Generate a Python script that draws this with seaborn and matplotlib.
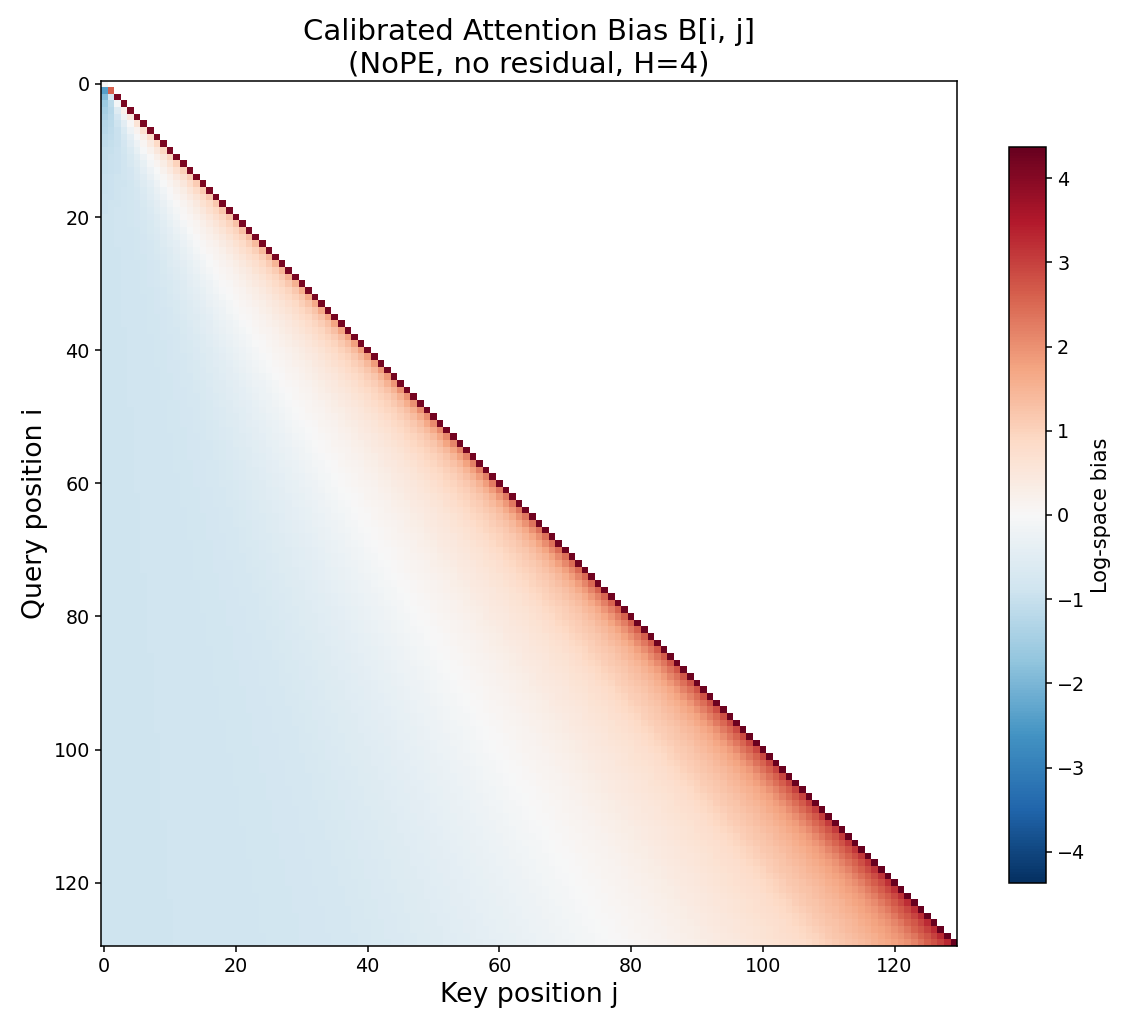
import numpy as np
import matplotlib
matplotlib.use("Agg")
import matplotlib.pyplot as plt
import seaborn as sns

# ---- data ----
n_pos = 130
vlim = 4.37

# bias as a function of relative distance (i - j) / i, for three query rows
rel_dist = [0.0078, 0.0155, 0.031, 0.055, 0.087, 0.134, 0.18, 0.25,
            0.4, 0.5, 0.6, 0.7, 0.8, 0.9, 1.0]
profile_rows = [20, 60, 129]
bias_row20 = [2.0, 1.8, 1.5, 1.2, 1.0, 0.8, 0.6, 0.35,
              0.0, -0.3, -0.55, -0.75, -0.85, -0.88, -0.92]
bias_row60 = [2.6, 2.3, 1.9, 1.45, 1.15, 0.9, 0.65, 0.4,
              0.0, -0.3, -0.55, -0.75, -0.85, -0.88, -0.92]
bias_row129 = [3.3, 3.0, 2.6, 2.0, 1.6, 1.2, 0.8, 0.5,
               0.0, -0.3, -0.55, -0.75, -0.85, -0.88, -0.92]

# the first query rows are bluer towards key 0
early_rows = [1, 2, 3, 4, 5, 6, 8, 10, 14, 20]
early_far = [-2.4, -1.9, -1.6, -1.45, -1.35, -1.25, -1.15, -1.05, -0.98, -0.92]

# diagonal (self) bias
diag_rows = [0, 1, 2, 129]
diag_bias = [0.0, 2.6, 4.1, 4.37]

tick_vals = [0, 20, 40, 60, 80, 100, 120]
cbar_ticks = [-4, -3, -2, -1, 0, 1, 2, 3, 4]


def build_bias():
    profiles = [bias_row20, bias_row60, bias_row129]
    log_d = np.log(rel_dist)
    bias = np.zeros((n_pos, n_pos))
    for i in range(n_pos):
        j = np.arange(i + 1)
        s = np.clip((i - j) / max(i, 1), 1e-6, 1.0)
        # blend the row profiles
        curves = [np.interp(np.log(s), log_d, p) for p in profiles]
        if i <= profile_rows[0]:
            row = curves[0]
        elif i <= profile_rows[1]:
            w = (i - profile_rows[0]) / (profile_rows[1] - profile_rows[0])
            row = (1 - w) * curves[0] + w * curves[1]
        else:
            w = (i - profile_rows[1]) / (profile_rows[2] - profile_rows[1])
            row = (1 - w) * curves[1] + w * curves[2]
        shift = np.interp(i, early_rows, early_far) - early_far[-1]
        row = row + shift * s
        row[i] = np.interp(i, diag_rows, diag_bias)
        bias[i, :i + 1] = row
    ii, jj = np.indices((n_pos, n_pos))
    mask = jj > ii
    return bias, mask


bias, mask = build_bias()

fig = plt.figure(figsize=(11.34, 10.31), dpi=100)
ax = fig.add_axes([0.089, 0.0824, 0.755, 0.8395])
cax = fig.add_axes([0.8898, 0.1435, 0.0326, 0.714])

sns.heatmap(bias, mask=mask, cmap="RdBu_r", vmin=-vlim, vmax=vlim,
            ax=ax, cbar_ax=cax, xticklabels=False, yticklabels=False,
            cbar_kws={"ticks": cbar_ticks})

ax.set_xticks(np.array(tick_vals) + 0.5)
ax.set_xticklabels([str(t) for t in tick_vals], fontsize=13.8, rotation=0)
ax.set_yticks(np.array(tick_vals) + 0.5)
ax.set_yticklabels([str(t) for t in tick_vals], fontsize=13.8, rotation=0)
ax.tick_params(length=4.5, width=1.1)

for sp in ax.spines.values():
    sp.set_visible(True)
    sp.set_linewidth(1.1)
    sp.set_color("black")

ax.set_xlabel("Key position j", fontsize=19.3)
ax.set_ylabel("Query position i", fontsize=19.3)
ax.set_title("Calibrated Attention Bias B[i, j]\n(NoPE, no residual, H=4)", fontsize=21)

cb = ax.collections[0].colorbar
cb.outline.set_visible(True)
cb.outline.set_linewidth(1.1)
cb.outline.set_edgecolor("black")
cb.ax.tick_params(labelsize=13.8, length=4.5, width=1.1)
cb.set_label("Log-space bias", fontsize=15)

fig.savefig("out.png", dpi=100)
